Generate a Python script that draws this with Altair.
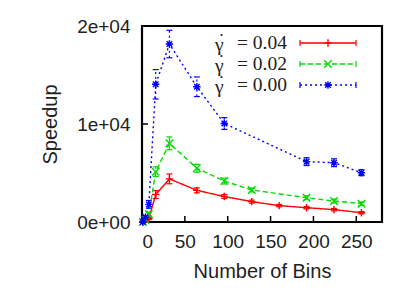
import altair as alt
import pandas as pd

# ---- data ----
series_names = ["0.04", "0.02", "0.00"]

red_bins = [1, 4, 8, 16, 32, 64, 96, 128, 160, 192, 224, 256]
red_speed = [0, 100, 350, 2800, 4400, 3230, 2600, 2080, 1670, 1460, 1260, 950]
red_err = [0, 50, 100, 400, 500, 250, 200, 150, 120, 120, 120, 120]

green_bins = [1, 4, 8, 16, 32, 64, 96, 128, 192, 224, 256]
green_speed = [0, 200, 800, 5130, 8030, 5480, 4180, 3270, 2480, 2140, 1870]
green_err = [0, 80, 150, 500, 650, 400, 300, 200, 200, 200, 180]

blue_bins = [1, 4, 8, 16, 32, 64, 96, 192, 224, 256]
blue_speed = [0, 500, 1800, 14050, 18160, 13800, 10050, 6160, 6050, 5030]
blue_err = [0, 150, 400, 1500, 1400, 1000, 600, 400, 400, 300]

x_tick_values = [0, 50, 100, 150, 200, 250]
y_tick_values = [0, 10000, 20000]
y_tick_labels = ["0e+00", "1e+04", "2e+04"]

colors = ["#ff0000", "#00dd00", "#0000ff"]
dashes = [[1, 0], [5, 3], [2, 3]]
shapes = [
    "M-1,0L1,0M0,-1L0,1",
    "M-1,-1L1,1M-1,1L1,-1",
    "M-1,0L1,0M0,-1L0,1M-0.75,-0.75L0.75,0.75M-0.75,0.75L0.75,-0.75",
]

rows = []
for name, b, s, e in [
    (series_names[0], red_bins, red_speed, red_err),
    (series_names[1], green_bins, green_speed, green_err),
    (series_names[2], blue_bins, blue_speed, blue_err),
]:
    for bi, si, ei in zip(b, s, e):
        rows.append({"series": name, "bins": bi, "speed": si, "lo": si - ei, "hi": si + ei})
df = pd.DataFrame(rows)

xs = alt.Scale(domain=[0, 280], nice=False, zero=False)
ys = alt.Scale(domain=[0, 20000], nice=False)
color = alt.Color("series:N", scale=alt.Scale(domain=series_names, range=colors), legend=None)
dash = alt.StrokeDash("series:N", scale=alt.Scale(domain=series_names, range=dashes), legend=None)

label_expr = " : ".join(
    f"datum.value == {v} ? '{l}'" for v, l in zip(y_tick_values, y_tick_labels)
) + " : ''"

base = alt.Chart(df)

lines = base.mark_line(strokeWidth=1.4, clip=True).encode(
    x=alt.X("bins:Q", scale=xs,
            axis=alt.Axis(values=x_tick_values, title="Number of Bins", ticks=False,
                          grid=False, labelPadding=10, titlePadding=10)),
    y=alt.Y("speed:Q", scale=ys,
            axis=alt.Axis(values=y_tick_values, labelExpr=label_expr, title="Speedup",
                          ticks=False, grid=False, labelPadding=12, titlePadding=16)),
    color=color,
    strokeDash=dash,
    detail="series:N",
)

err = base.mark_rule(strokeWidth=1.2, clip=True).encode(
    x="bins:Q", y="lo:Q", y2="hi:Q", color=color, strokeDash=dash
)

cap_lo = base.mark_point(shape="M-1,0L1,0", size=36, filled=False, strokeWidth=1.2, opacity=1).encode(
    x="bins:Q", y="lo:Q", color=color
)
cap_hi = base.mark_point(shape="M-1,0L1,0", size=36, filled=False, strokeWidth=1.2, opacity=1).encode(
    x="bins:Q", y="hi:Q", color=color
)

points = base.mark_point(filled=False, strokeWidth=1.4, opacity=1, size=55).encode(
    x="bins:Q", y="speed:Q", color=color,
    shape=alt.Shape("series:N", scale=alt.Scale(domain=series_names, range=shapes), legend=None),
)

# inward tick marks
xt = alt.Chart(pd.DataFrame({"t": x_tick_values[1:]})).mark_rule(color="black", strokeWidth=1.5).encode(
    x=alt.X("t:Q", scale=xs), y=alt.value(196), y2=alt.value(190)
)
yt = alt.Chart(pd.DataFrame({"t": y_tick_values[1:-1]})).mark_rule(color="black", strokeWidth=1.5).encode(
    y=alt.Y("t:Q", scale=ys), x=alt.value(0), x2=alt.value(6)
)

# manual legend (gnuplot style: text then sample)
leg = pd.DataFrame({
    "series": series_names,
    "gamma": ["\u03b3"] * 3,
    "rest": ["= " + n for n in series_names],
    "ly": [17, 38, 59],
})
lbase = alt.Chart(leg)
font = dict(font="Liberation Serif", fontSize=19.5, color="#222222", baseline="middle")
lgam = lbase.mark_text(align="left", dy=2, **font).encode(
    x=alt.value(73), y=alt.Y("ly:Q", scale=None), text="gamma:N"
)
ldot = lbase.mark_circle(size=5, color="#222222", opacity=1, yOffset=-8).encode(
    x=alt.value(79.5), y=alt.Y("ly:Q", scale=None)
)
lrest = lbase.mark_text(align="right", **font).encode(
    x=alt.value(145), y=alt.Y("ly:Q", scale=None), text="rest:N"
)
lline = lbase.mark_rule(strokeWidth=1.4).encode(
    x=alt.value(158), x2=alt.value(214), y=alt.Y("ly:Q", scale=None), color=color, strokeDash=dash
)
lcap1 = lbase.mark_point(shape="M0,-1L0,1", size=36, filled=False, strokeWidth=1.2, opacity=1).encode(
    x=alt.value(158), y=alt.Y("ly:Q", scale=None), color=color
)
lcap2 = lbase.mark_point(shape="M0,-1L0,1", size=36, filled=False, strokeWidth=1.2, opacity=1).encode(
    x=alt.value(214), y=alt.Y("ly:Q", scale=None), color=color
)
lpt = lbase.mark_point(filled=False, strokeWidth=1.4, opacity=1, size=55).encode(
    x=alt.value(186), y=alt.Y("ly:Q", scale=None), color=color,
    shape=alt.Shape("series:N", scale=alt.Scale(domain=series_names, range=shapes), legend=None),
)

chart = alt.layer(
    err, cap_lo, cap_hi, lines, points, xt, yt, lgam, ldot, lrest, lline, lcap1, lcap2, lpt
).properties(
    width=240, height=196,
    autosize=alt.AutoSizeParams(type="none"),
    padding={"left": 134, "top": 18, "right": 20, "bottom": 62},
).configure_view(
    stroke="black", strokeWidth=2.2
).configure_axis(
    domain=False,
    labelFont="Liberation Sans", labelFontSize=19, labelColor="#222222",
    titleFont="Liberation Sans", titleFontSize=20, titleFontWeight="normal", titleColor="#222222",
)

chart.save("out.html", embed_options={"renderer": "svg", "actions": False})
